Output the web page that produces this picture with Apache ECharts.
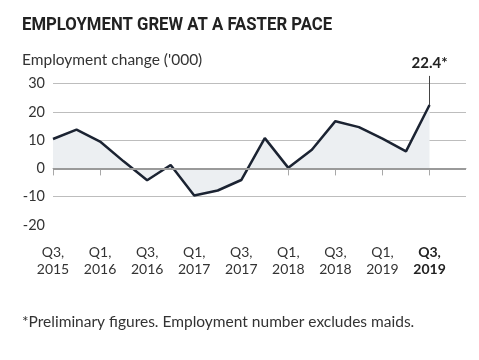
<!DOCTYPE html>
<html><head><meta charset="utf-8">
<script src="https://cdn.jsdelivr.net/npm/echarts@6/dist/echarts.min.js"></script>
<style>html,body{margin:0;padding:0;background:#fff}#c{width:479px;height:360px}</style>
</head><body><div id="c"></div>
<script>
var quarters = ["Q3,2015","Q4,2015","Q1,2016","Q2,2016","Q3,2016","Q4,2016","Q1,2017","Q2,2017","Q3,2017","Q4,2017","Q1,2018","Q2,2018","Q3,2018","Q4,2018","Q1,2019","Q2,2019","Q3,2019"];
var values = [10.4, 13.7, 9.5, 2.5, -4.2, 1.2, -9.6, -7.8, -4.1, 10.7, 0.2, 6.6, 16.7, 14.6, 10.5, 6.0, 22.4];
var tickLabels = ["Q3,\n2015","Q1,\n2016","Q3,\n2016","Q1,\n2017","Q3,\n2017","Q1,\n2018","Q3,\n2018","Q1,\n2019","Q3,\n2019"];
var yTicks = [-20, -10, 0, 10, 20, 30];
var titleText = "EMPLOYMENT GREW AT A FASTER PACE";
var subText = "Employment change ('000)";
var noteText = "*Preliminary figures. Employment number excludes maids.";

var font = "Lato, 'Open Sans', sans-serif";
var seriesData = values.map(function (v, i) { return [i, v]; });
var tickPos = tickLabels.map(function (t, i) { return i * 2; });
var lastIdx = values.length - 1;
var lastVal = values[lastIdx];
var yTop = 32.7;   // room above the axis for the annotation leader line
var xMax = 17.55;

var chart = echarts.init(document.getElementById('c'), null, {renderer: 'canvas'});
chart.setOption({
  animation: false,
  backgroundColor: '#fff',
  title: [
    {text: subText, left: 22, top: 52, padding: 0, textStyle: {fontFamily: font, fontWeight: 'normal', fontSize: 15.5, color: '#333'}},
    {text: noteText, left: 22, top: 314, padding: 0, textStyle: {fontFamily: font, fontWeight: 'normal', fontSize: 15.5, color: '#333'}}
  ],
  graphic: [{
    type: 'text', x: 22, y: 25.5, scaleX: 0.88, silent: true,
    style: {text: titleText, fontFamily: "Roboto, sans-serif", fontWeight: 'bold', fontSize: 19, fill: '#222', textVerticalAlign: 'middle', verticalAlign: 'middle'}
  }],
  grid: {left: 53, right: 13, top: 75.9, bottom: 135, containLabel: false},
  xAxis: {
    type: 'value', min: 0, max: xMax,
    splitLine: {show: false},
    axisLine: {show: true, lineStyle: {color: '#a8a8a8', width: 1}},
    axisTick: {show: true, length: 7, customValues: tickPos, lineStyle: {color: '#a8a8a8'}},
    axisLabel: {
      customValues: tickPos, margin: 19, fontFamily: font, fontSize: 14, color: '#333', lineHeight: 17,
      formatter: function (v) {
        var i = Math.round(v / 2);
        var t = tickLabels[i] || '';
        if (i === tickLabels.length - 1) {
          return t.split('\n').map(function (s) { return '{b|' + s + '}'; }).join('\n');
        }
        return t;
      },
      rich: {b: {fontWeight: 'bold', fontFamily: font, fontSize: 14, color: '#222', lineHeight: 17}}
    }
  },
  yAxis: {
    type: 'value', min: yTicks[0], max: yTop, interval: 10,
    axisLine: {show: false}, axisTick: {show: false},
    axisLabel: {margin: 8, fontFamily: font, fontSize: 14.5, color: '#333',
      formatter: function (v) { return yTicks.indexOf(v) >= 0 ? String(v) : ''; }},
    splitLine: {show: true, lineStyle: {color: ['transparent', '#bdbdbd', '#bdbdbd', '#bdbdbd', '#bdbdbd', '#bdbdbd', 'transparent'], width: 1}}
  },
  series: [{
    type: 'line', data: seriesData, symbol: 'none', clip: false,
    lineStyle: {color: '#1b2332', width: 2.5},
    areaStyle: {color: '#eceff2', opacity: 1},
    markLine: {
      silent: true, symbol: 'none',
      data: [
        [{coord: [0, 0], lineStyle: {color: '#9a9a9a', width: 2, type: 'solid'}}, {coord: [xMax, 0]}],
        [{coord: [lastIdx, lastVal], lineStyle: {color: '#444', width: 1, type: 'solid'}, label: {show: true, position: 'end', distance: 5, formatter: lastVal.toFixed(1) + '*', fontFamily: font, fontWeight: 'bold', fontSize: 15, color: '#222'}}, {coord: [lastIdx, yTop]}]
      ],
      label: {show: false}
    }
  }]
});
</script></body></html>
